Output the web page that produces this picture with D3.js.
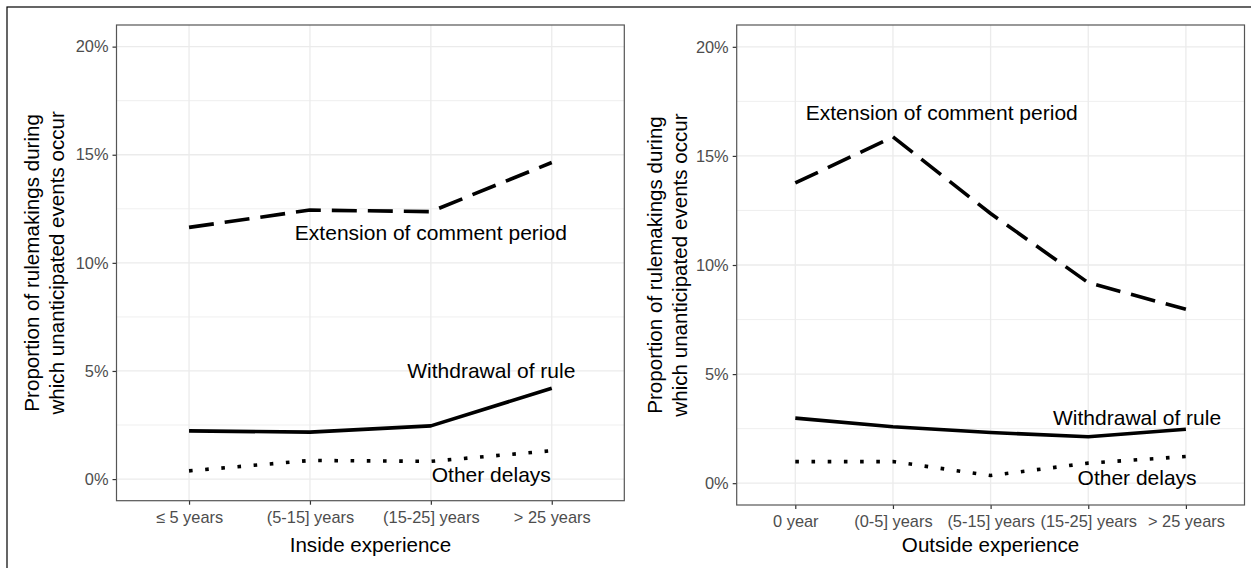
<!DOCTYPE html>
<html lang="en">
<head>
<meta charset="utf-8">
<title>Unanticipated events by experience</title>
<script src="https://d3js.org/d3.v7.min.js"></script>
<style>
  body { margin: 0; background: #fff; }
  text { font-family: "Liberation Sans", Arial, Helvetica, sans-serif; }
</style>
</head>
<body>
<div id="chart"></div>
<script>
// values in percent
var insideCats = ["\u2264 5 years", "(5-15] years", "(15-25] years", "> 25 years"];
var insideExtension = [11.64, 12.44, 12.37, 14.64];
var insideWithdrawal = [2.23, 2.17, 2.46, 4.2];
var insideOther = [0.38, 0.86, 0.82, 1.31];

var outsideCats = ["0 year", "(0-5] years", "(5-15] years", "(15-25] years", "> 25 years"];
var outsideExtension = [13.76, 15.87, 12.36, 9.19, 7.97];
var outsideWithdrawal = [2.98, 2.59, 2.32, 2.13, 2.47];
var outsideOther = [0.99, 0.99, 0.35, 0.92, 1.22];

var yTicks = [0, 5, 10, 15, 20];
var yMinor = [2.5, 7.5, 12.5, 17.5];

// annotation labels: x as category position (1-based), y in percent
var insideLabels = [
  { text: "Extension of comment period", x: 3, y: 11.4 },
  { text: "Withdrawal of rule", x: 3.5, y: 5.0 },
  { text: "Other delays", x: 3.5, y: 0.2 }
];
var outsideLabels = [
  { text: "Extension of comment period", x: 2.5, y: 17.0 },
  { text: "Withdrawal of rule", x: 4.5, y: 3.0 },
  { text: "Other delays", x: 4.5, y: 0.25 }
];

var W = 1251, H = 568;
var svg = d3.select("#chart").append("svg")
  .attr("width", W).attr("height", H);

// outer frame (cropped on right and bottom)
svg.append("rect")
  .attr("x", 7).attr("y", 7).attr("width", 1300).attr("height", 700)
  .attr("fill", "none").attr("stroke", "#000").attr("stroke-width", 1.2);

var lineStyles = {
  extension: "25,11",
  withdrawal: null,
  other: "3.6,12.6"
};

function drawPanel(p) {
  var n = p.cats.length;
  var x = d3.scaleLinear().domain([0.4, n + 0.6]).range([p.left, p.right]);
  var y = d3.scaleLinear().domain([-1, 21]).range([p.bottom, p.top]);

  var g = svg.append("g");

  // grid
  g.selectAll(".minor").data(yMinor).enter().append("line")
    .attr("x1", p.left).attr("x2", p.right)
    .attr("y1", function (d) { return y(d); }).attr("y2", function (d) { return y(d); })
    .attr("stroke", "#ebebeb").attr("stroke-width", 0.8);
  g.selectAll(".major").data(yTicks).enter().append("line")
    .attr("x1", p.left).attr("x2", p.right)
    .attr("y1", function (d) { return y(d); }).attr("y2", function (d) { return y(d); })
    .attr("stroke", "#ebebeb").attr("stroke-width", 1.3);
  g.selectAll(".vmajor").data(p.cats).enter().append("line")
    .attr("x1", function (d, i) { return x(i + 1); }).attr("x2", function (d, i) { return x(i + 1); })
    .attr("y1", p.top).attr("y2", p.bottom)
    .attr("stroke", "#ebebeb").attr("stroke-width", 1.3);

  // axes
  var xAxis = d3.axisBottom(x)
    .tickValues(d3.range(1, n + 1))
    .tickFormat(function (d) { return p.cats[d - 1]; })
    .tickSize(4).tickPadding(4);
  var gx = g.append("g").attr("transform", "translate(0," + p.bottom + ")").call(xAxis);
  gx.select(".domain").remove();
  gx.selectAll(".tick line").attr("stroke", "#333").attr("stroke-width", 1.2);
  gx.selectAll(".tick text").attr("fill", "#4d4d4d").style("font-size", "16.4px")
    .attr("dy", "0.71em").attr("y", p.tickY);

  var yAxis = d3.axisLeft(y)
    .tickValues(yTicks)
    .tickFormat(function (d) { return d + "%"; })
    .tickSize(4).tickPadding(4);
  var gy = g.append("g").attr("transform", "translate(" + p.left + ",0)").call(yAxis);
  gy.select(".domain").remove();
  gy.selectAll(".tick line").attr("stroke", "#333").attr("stroke-width", 1.2);
  gy.selectAll(".tick text").attr("fill", "#4d4d4d").style("font-size", "16.4px");

  // panel border
  g.append("rect")
    .attr("x", p.left).attr("y", p.top)
    .attr("width", p.right - p.left).attr("height", p.bottom - p.top)
    .attr("fill", "none").attr("stroke", "#555").attr("stroke-width", 1.2);

  // series lines
  var line = d3.line()
    .x(function (d, i) { return x(i + 1); })
    .y(function (d) { return y(d); });

  var series = [
    { key: "extension", values: p.extension },
    { key: "withdrawal", values: p.withdrawal },
    { key: "other", values: p.other }
  ];
  g.selectAll(".series").data(series).enter().append("path")
    .attr("d", function (d) { return line(d.values); })
    .attr("fill", "none")
    .attr("stroke", "#000")
    .attr("stroke-width", 3.6)
    .attr("stroke-linejoin", "round")
    .attr("stroke-dasharray", function (d) { return lineStyles[d.key]; });

  // annotations
  g.selectAll(".lab").data(p.labels).enter().append("text")
    .attr("x", function (d) { return x(d.x); })
    .attr("y", function (d) { return y(d.y); })
    .attr("dy", "0.35em")
    .attr("text-anchor", "middle")
    .style("font-size", "21px")
    .attr("fill", "#000")
    .text(function (d) { return d.text; });

  // axis titles
  g.append("text")
    .attr("x", (p.left + p.right) / 2).attr("y", 551.5)
    .attr("text-anchor", "middle")
    .style("font-size", "20.6px").attr("fill", "#000")
    .text(p.xTitle);

  var yt = g.append("text")
    .attr("transform", "translate(" + p.yTitleX + "," + ((p.top + p.bottom) / 2) + ") rotate(-90)")
    .attr("text-anchor", "middle")
    .style("font-size", "20.6px").attr("fill", "#000");
  yt.append("tspan").attr("x", 0).attr("dy", 0)
    .text("Proportion of rulemakings during");
  yt.append("tspan").attr("x", 0).attr("dy", "1.2em")
    .text("which unanticipated events occur");
}

drawPanel({
  cats: insideCats, extension: insideExtension, withdrawal: insideWithdrawal, other: insideOther,
  labels: insideLabels, xTitle: "Inside experience",
  left: 116.5, right: 624.3, top: 25, bottom: 500.7, yTitleX: 39, tickY: 11
});

drawPanel({
  cats: outsideCats, extension: outsideExtension, withdrawal: outsideWithdrawal, other: outsideOther,
  labels: outsideLabels, xTitle: "Outside experience",
  left: 736.7, right: 1244.5, top: 25, bottom: 505, yTitleX: 662, tickY: 10
});
</script>
</body>
</html>
